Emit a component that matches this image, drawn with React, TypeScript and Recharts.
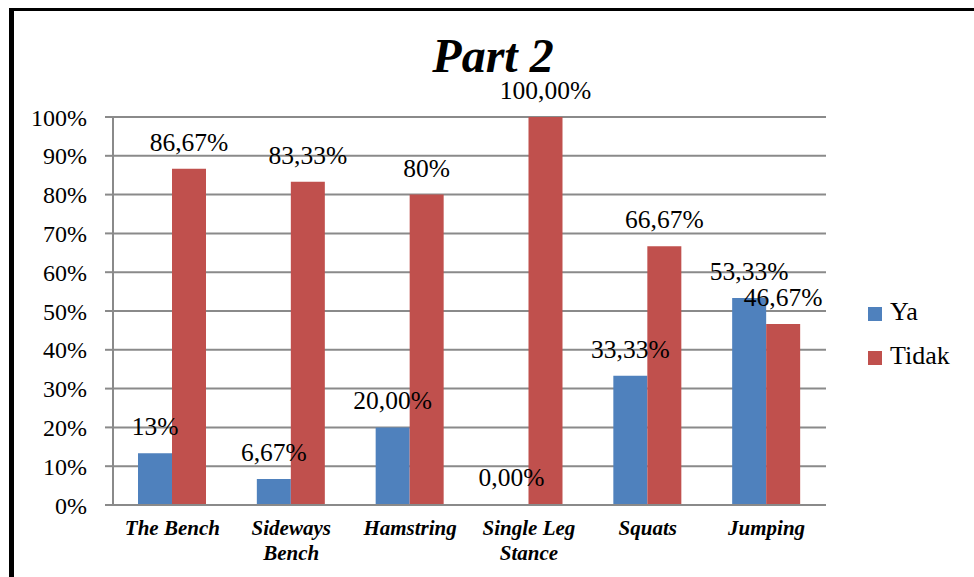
import React from "react";
import { BarChart, Bar, XAxis, YAxis, CartesianGrid, Legend, LabelList } from "recharts";

const categories = ["The Bench", "Sideways Bench", "Hamstring", "Single Leg Stance", "Squats", "Jumping"];
const tickLines = [["The Bench"], ["Sideways", "Bench"], ["Hamstring"], ["Single Leg", "Stance"], ["Squats"], ["Jumping"]];
const yaValues = [13.33, 6.67, 20, 0, 33.33, 53.33];
const tidakValues = [86.67, 83.33, 80, 100, 66.67, 46.67];
const yaLabels = ["13%", "6,67%", "20,00%", "0,00%", "33,33%", "53,33%"];
const tidakLabels = ["86,67%", "83,33%", "80%", "100,00%", "66,67%", "46,67%"];
const yTicks = [0, 10, 20, 30, 40, 50, 60, 70, 80, 90, 100];
const seriesNames = ["Ya", "Tidak"];
const seriesColors = ["#4F81BD", "#C0504D"];

const data = categories.map((c, i) => ({
  name: c,
  Ya: yaValues[i],
  Tidak: tidakValues[i],
  yaLabel: yaLabels[i],
  tidakLabel: tidakLabels[i],
}));

const FONT = "Liberation Serif";
const GRID = "#8a8a8a";
const css = `svg text, svg tspan { font-family: "Liberation Serif", "Times New Roman", serif !important; }`;

const XTick = (props: any) => {
  const { x, y, index } = props;
  const lines = tickLines[index] || [];
  return (
    <text x={x} y={y + 30} textAnchor="middle" fontFamily={FONT} fontSize={21} fontWeight="bold" fontStyle="italic" fill="#000">
      {lines.map((l: string, i: number) => (
        <tspan key={i} x={x} dy={i === 0 ? 0 : 25}>{l}</tspan>
      ))}
    </text>
  );
};

const LegendContent = () => (
  <div style={{ position: "relative", width: 100, height: 80, fontFamily: FONT, fontSize: 26, lineHeight: "26px", color: "#000" }}>
    {seriesNames.map((n, i) => (
      <React.Fragment key={n}>
        <div style={{ position: "absolute", left: 2, top: 7 + i * 44, width: 14, height: 14, background: seriesColors[i] }} />
        <div style={{ position: "absolute", left: 24, top: -1 + i * 44, whiteSpace: "nowrap" }}>{n}</div>
      </React.Fragment>
    ))}
  </div>
);

export default function App() {
  return (
    <div style={{ position: "absolute", left: 0, top: 0, width: 974, height: 577, overflow: "hidden", background: "#fff", fontFamily: FONT }}>
      <style>{css}</style>
      <div style={{ position: "absolute", left: 9, top: 8, width: 965, height: 569, borderTop: "3px solid #000", borderLeft: "5px solid #000", boxSizing: "border-box" }} />
      <div style={{ position: "absolute", left: 293, top: 32, width: 400, textAlign: "center", fontFamily: FONT, fontSize: 48, lineHeight: "48px", fontWeight: "bold", fontStyle: "italic", color: "#000" }}>Part 2</div>
      <div style={{ position: "absolute", left: 0, top: 0 }}>
        <BarChart width={974} height={577} data={data} margin={{ top: 117, right: 48, bottom: 12, left: 0 }} barGap={0} barSize={34}>
          <CartesianGrid vertical={false} stroke={GRID} strokeWidth={2} />
          <XAxis dataKey="name" tickLine={false} tickSize={0} tickMargin={0} axisLine={{ stroke: GRID, strokeWidth: 2 }} height={60} tick={<XTick />} interval={0} />
          <YAxis
            domain={[0, 100]}
            ticks={yTicks}
            width={113}
            tickSize={8}
            tickMargin={18}
            tickLine={{ stroke: GRID, strokeWidth: 2 }}
            axisLine={{ stroke: GRID, strokeWidth: 2 }}
            tickFormatter={(v: number) => `${v}%`}
            tick={{ fontFamily: FONT, fontSize: 24, fill: "#000" }}
            interval={0}
          />
          <Legend
            layout="vertical"
            align="right"
            verticalAlign="middle"
            content={<LegendContent />}
            wrapperStyle={{ position: "absolute", left: 866, top: 300, width: 100, height: 80 }}
          />
          <Bar dataKey="Ya" fill={seriesColors[0]} isAnimationActive={false} minPointSize={1}>
            <LabelList dataKey="yaLabel" position="top" offset={18} fontFamily={FONT} fontSize={25.5} fill="#000" />
          </Bar>
          <Bar dataKey="Tidak" fill={seriesColors[1]} isAnimationActive={false}>
            <LabelList dataKey="tidakLabel" position="top" offset={18} fontFamily={FONT} fontSize={25.5} fill="#000" />
          </Bar>
        </BarChart>
      </div>
    </div>
  );
}
